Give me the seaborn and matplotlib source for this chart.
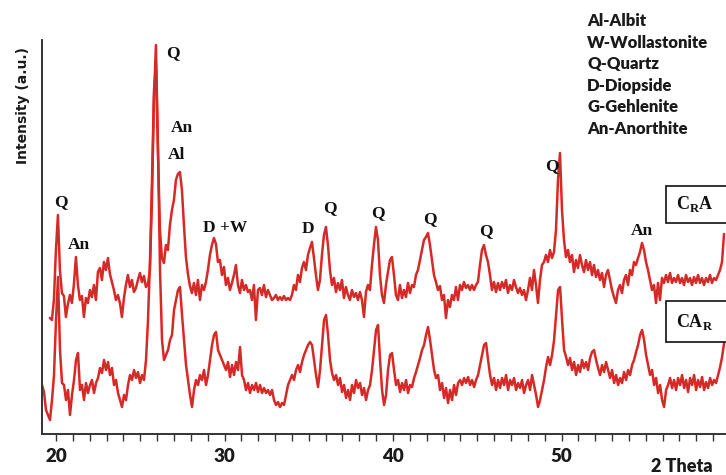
import numpy as np
import pandas as pd
import matplotlib
matplotlib.use("Agg")
import matplotlib.pyplot as plt
from matplotlib.ticker import MultipleLocator
from matplotlib.patches import Rectangle
import seaborn as sns

# scan step (2 theta, degrees) and start angles of the two patterns
step = 0.1187
cra_start = 19.64
car_start = 19.17

# intensities (a.u.), one value per step
cra_counts = [
    116, 114, 134, 184, 219, 164, 141, 138, 117, 130, 139, 131, 150, 177, 149, 134, 138, 117, 136, 131,
    144, 137, 149, 134, 162, 166, 154, 172, 164, 176, 160, 152, 144, 134, 139, 131, 117, 136, 149, 159,
    147, 154, 142, 146, 154, 161, 152, 158, 147, 150, 164, 234, 334, 389, 284, 204, 176, 171, 189, 184,
    209, 224, 234, 254, 260, 262, 244, 209, 177, 160, 148, 141, 151, 139, 154, 134, 149, 144, 152, 164,
    179, 189, 196, 190, 172, 174, 159, 167, 149, 156, 144, 151, 159, 169, 149, 141, 154, 144, 149, 142,
    144, 134, 149, 114, 144, 146, 139, 149, 137, 144, 139, 134, 136, 139, 134, 137, 134, 138, 134, 136,
    134, 139, 149, 144, 159, 152, 166, 172, 164, 179, 186, 192, 176, 159, 144, 154, 179, 199, 207, 189,
    164, 149, 156, 142, 151, 144, 154, 136, 147, 139, 134, 144, 137, 141, 134, 142, 134, 117, 142, 149,
    144, 169, 189, 207, 194, 159, 139, 131, 149, 162, 174, 177, 159, 139, 134, 149, 136, 144, 137, 151,
    141, 149, 147, 159, 164, 174, 184, 194, 197, 201, 189, 174, 159, 152, 144, 148, 134, 139, 116, 134,
    127, 139, 134, 147, 134, 149, 144, 152, 146, 149, 144, 149, 144, 149, 152, 169, 184, 189, 179, 172,
    159, 144, 152, 142, 151, 144, 152, 146, 154, 141, 149, 144, 154, 147, 141, 146, 139, 144, 134, 144,
    156, 144, 164, 149, 131, 154, 169, 172, 179, 172, 184, 176, 182, 204, 254, 281, 224, 194, 177, 184,
    172, 179, 162, 174, 166, 179, 169, 162, 174, 164, 172, 159, 169, 157, 164, 154, 161, 147, 159, 164,
    154, 144, 137, 131, 144, 149, 141, 154, 159, 149, 164, 159, 172, 169, 176, 182, 191, 184, 172, 164,
    154, 144, 149, 131, 151, 134, 156, 151, 159, 152, 161, 151, 156, 152, 159, 151, 156, 149, 159, 152,
    156, 149, 157, 151, 159, 151, 156, 149, 156, 152, 159, 151, 156, 154, 159, 164, 172, 200,
]

car_counts = [
    49, 42, 24, 19, 14, 34, 59, 114, 157, 84, 51, 49, 34, 44, 19, 39, 54, 74, 81, 44,
    49, 34, 51, 41, 49, 54, 41, 51, 56, 66, 61, 74, 64, 72, 59, 66, 49, 54, 41, 34,
    27, 39, 34, 49, 59, 54, 64, 56, 62, 51, 59, 54, 74, 114, 174, 254, 344, 369, 284, 164,
    94, 74, 79, 84, 94, 99, 124, 134, 144, 147, 119, 94, 69, 54, 39, 27, 44, 54, 49, 59,
    54, 64, 49, 59, 74, 89, 99, 102, 84, 79, 74, 69, 64, 72, 57, 69, 59, 72, 64, 87,
    59, 54, 44, 51, 41, 49, 44, 51, 42, 49, 41, 46, 41, 44, 39, 44, 34, 29, 32, 27,
    31, 29, 39, 49, 54, 59, 54, 64, 69, 62, 72, 79, 84, 89, 92, 89, 74, 59, 47, 64,
    89, 114, 119, 99, 74, 61, 54, 59, 49, 56, 42, 49, 36, 44, 34, 49, 41, 54, 46, 51,
    39, 46, 34, 44, 49, 64, 84, 104, 109, 74, 44, 29, 39, 64, 79, 81, 64, 49, 54, 42,
    51, 44, 54, 41, 49, 47, 56, 62, 69, 76, 84, 89, 99, 107, 94, 79, 64, 56, 59, 44,
    51, 36, 46, 31, 44, 34, 49, 39, 51, 54, 49, 56, 51, 57, 49, 54, 47, 54, 59, 69,
    79, 89, 91, 74, 59, 49, 56, 44, 54, 46, 56, 49, 59, 44, 54, 49, 56, 44, 51, 46,
    54, 41, 49, 54, 44, 59, 49, 39, 27, 34, 44, 54, 67, 77, 69, 79, 94, 119, 144, 147,
    114, 84, 77, 69, 76, 64, 72, 59, 69, 62, 74, 66, 72, 64, 76, 82, 84, 74, 66, 59,
    69, 62, 72, 64, 56, 64, 51, 59, 49, 56, 51, 62, 54, 64, 59, 69, 74, 82, 89, 99,
    104, 94, 79, 69, 59, 64, 49, 56, 41, 49, 34, 27, 44, 49, 56, 46, 54, 44, 56, 49,
    59, 46, 54, 42, 56, 49, 59, 44, 54, 47, 57, 44, 52, 46, 56, 49, 54, 51, 59, 67,
    77, 91,
]

phase_key = ["Al-Albit", "W-Wollastonite", "Q-Quartz", "D-Diopside", "G-Gehlenite", "An-Anorthite"]
peak_names = ["Q", "An", "Q", "An", "Al", "D +W", "D", "Q", "Q", "Q", "Q", "Q", "An"]
sample_names = ["C$_\\mathregular{R}$A", "CA$_\\mathregular{R}$"]

# tidy frame for seaborn
df = pd.concat([
    pd.DataFrame({"theta": cra_start + step * np.arange(len(cra_counts)),
                  "I": cra_counts, "sample": "CRA"}),
    pd.DataFrame({"theta": car_start + step * np.arange(len(car_counts)),
                  "I": car_counts, "sample": "CAR"}),
])

sns.set_style("ticks")
fig = plt.figure(figsize=(7.26, 4.75), dpi=100)
ax = fig.add_axes([42 / 726, 1 - 434 / 475, 684 / 726, 394 / 475])

for s in ["CRA", "CAR"]:
    sub = df[df["sample"] == s]
    # red band plus a thin darker core, like the scanned trace
    sns.lineplot(data=sub, x="theta", y="I", color="#e8231e",
                 lw=1.8, ax=ax, legend=False, estimator=None, sort=False)
    sns.lineplot(data=sub, x="theta", y="I", color="#b0393a",
                 lw=0.5, ax=ax, legend=False, estimator=None, sort=False)

ax.set_xlim(19.17, 59.76)
ax.set_ylim(0, 394)
sns.despine(ax=ax)
for sp in ["left", "bottom"]:
    ax.spines[sp].set_color("#333333")
    ax.spines[sp].set_linewidth(1.4)
ax.set_yticks([])
ax.xaxis.set_major_locator(MultipleLocator(10))
ax.xaxis.set_minor_locator(MultipleLocator(1))
ax.tick_params(axis="x", which="both", direction="out", length=5, width=1,
               color="#333333", pad=5)
for lab in ax.get_xticklabels():
    lab.set_fontfamily("Lato")
    lab.set_fontweight("heavy")
    lab.set_fontsize(13.5)
    lab.set_color("#1a1a1a")
ax.set_xlabel("")
ax.set_ylabel("")

fig.text(23 / 726, 1 - 105 / 475, "Intensity (a.u.)", rotation=90, ha="center", va="center",
         fontsize=10, fontweight="bold", family="DejaVu Sans", color="#1a1a1a")
fig.text(682 / 726, 1 - 466 / 475, "2 Theta", ha="center", va="center",
         fontsize=13, fontweight="heavy", family="Lato", color="#1a1a1a")

# phase key, top right
for i, t in enumerate(phase_key):
    fig.text(587 / 726, 1 - (21 + 21.6 * i) / 475, t, ha="left", va="center",
             fontsize=12, fontweight="heavy", family="Lato", color="#1a1a1a")

# peak labels
label_pos = [(20.30, 232), (21.37, 189), (26.94, 381), (27.48, 306), (27.18, 279),
             (30.03, 206), (34.96, 205), (36.26, 226), (39.11, 221), (42.20, 215),
             (45.52, 203), (49.44, 268), (54.78, 203)]
for name, (x, y) in zip(peak_names, label_pos):
    ax.text(x, y, name, ha="center", va="center", fontsize=12.5, fontweight="bold",
            family="Liberation Serif", color="#111111")

# sample boxes
for name, (y0, y1) in zip(sample_names, [(186, 223), (301, 342)]):
    fig.add_artist(Rectangle((666 / 726, 1 - y1 / 475), 80 / 726, (y1 - y0) / 475,
                             transform=fig.transFigure, facecolor="white",
                             edgecolor="#111111", lw=1.2, zorder=5, clip_on=False))
    fig.text(695 / 726, 1 - (y0 + y1) / 2 / 475, name, ha="center", va="center",
             fontsize=13, fontweight="bold", family="Liberation Serif", color="#111111",
             zorder=6)

fig.savefig("out.png", dpi=100)
